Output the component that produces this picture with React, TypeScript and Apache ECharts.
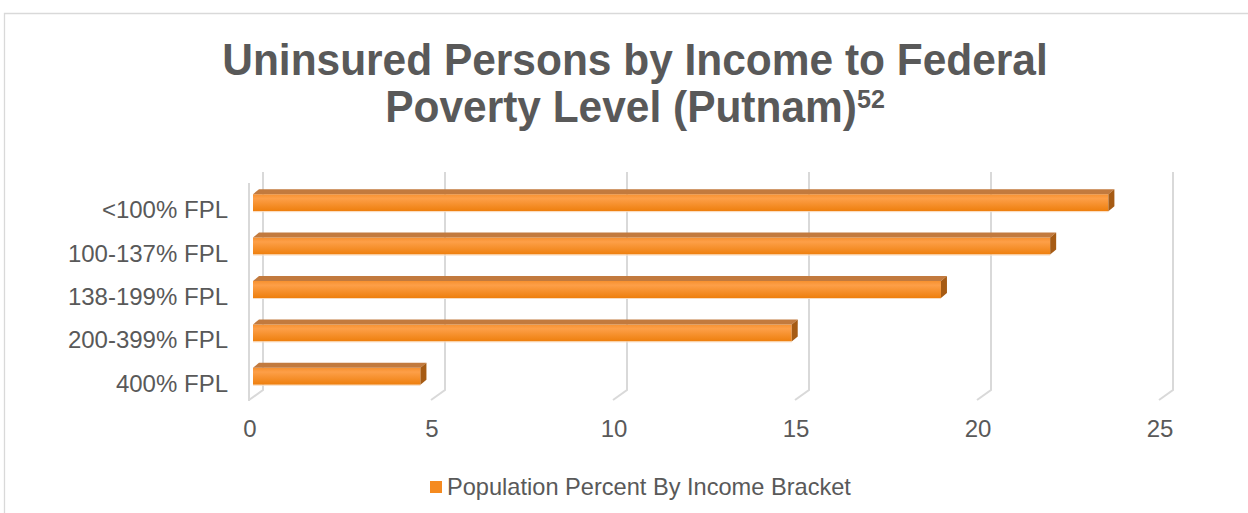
import React, { useEffect, useRef } from "react";
import * as echarts from "echarts";

const categories = ["<100% FPL", "100-137% FPL", "138-199% FPL", "200-399% FPL", "400% FPL"];
const values = [23.5, 21.9, 18.9, 14.8, 4.6];
const xTicks = [0, 5, 10, 15, 20, 25];
const seriesName = "Population Percent By Income Bracket";
const titleLine1 = "Uninsured Persons by Income to Federal";
const titleLine2 = "Poverty Level (Putnam)";
const titleSup = "52";

export default function App() {
  const ref = useRef<HTMLDivElement>(null);
  useEffect(() => {
    const chart = echarts.init(ref.current!, null, { renderer: "svg" });
    const textColor = "#595959";
    const gridColor = "#d9d9d9";
    const font = "'Liberation Sans', Arial, sans-serif";
    chart.setOption({
      animation: false,
      backgroundColor: "#ffffff",
      textStyle: { fontFamily: font },
      graphic: [
        {
          type: "rect",
          shape: { x: 4.5, y: 13.5, width: 1300, height: 600 },
          style: { fill: "none", stroke: gridColor, lineWidth: 1.3 },
          silent: true,
        },
        {
          type: "text",
          x: 635,
          y: 36,
          scaleX: 0.965,
          style: {
            text: `{a|${titleLine1}}\n{a|${titleLine2}}{s|${titleSup}}`,
            align: "center",
            verticalAlign: "top",
            rich: {
              a: { fontSize: 44, fontWeight: "bold", lineHeight: 47, fill: textColor, fontFamily: font },
              s: { fontSize: 26, fontWeight: "bold", lineHeight: 26, verticalAlign: "top", padding: [3, 0, 0, 0], fill: textColor, fontFamily: font },
            },
          },
        },
      ],
      grid: { left: 250, right: 88, top: 188, bottom: 108, containLabel: false },
      xAxis: {
        type: "value",
        min: 0,
        max: 25,
        interval: 5,
        axisLine: { show: false },
        axisTick: { show: false },
        splitLine: { show: false },
        axisLabel: { color: textColor, fontSize: 24, margin: 11, fontFamily: font },
      },
      yAxis: {
        type: "category",
        data: categories,
        inverse: true,
        axisLine: { show: false },
        axisTick: { show: false },
        splitLine: { show: false },
        axisLabel: { color: textColor, fontSize: 24, margin: 22, fontFamily: font },
      },
      legend: {
        data: [seriesName],
        left: 425,
        top: 470,
        icon: "rect",
        itemWidth: 12,
        itemHeight: 12,
        itemGap: 10,
        textStyle: { color: textColor, fontSize: 23.6, fontFamily: font },
      },
      series: [
        {
          type: "custom",
          silent: true,
          z: 1,
          encode: { x: 0, y: 1 },
          data: xTicks.map((t) => [t, 0]),
          renderItem: (params: any, api: any) => {
            const x = api.coord([api.value(0), 0])[0];
            const cs = params.coordSys;
            const top = cs.y - 16;
            const floorBack = cs.y + cs.height - 15;
            const floorFront = cs.y + cs.height - 5;
            const children: any[] = [
              {
                type: "polyline",
                shape: { points: [[x + 13, top], [x + 13, floorBack], [x - 1, floorFront]] },
                style: { stroke: gridColor, lineWidth: 2, fill: "none" },
              },
            ];
            if (api.value(0) === 0) {
              children.push({
                type: "line",
                shape: { x1: x - 1, y1: cs.y - 5, x2: x - 1, y2: floorFront + 1 },
                style: { stroke: gridColor, lineWidth: 2 },
              });
            }
            return { type: "group", children };
          },
        },
        {
          type: "custom",
          name: seriesName,
          z: 3,
          itemStyle: { color: "#f58a1f" },
          encode: { x: 0, y: 1 },
          data: values.map((v, i) => [v, i]),
          renderItem: (params: any, api: any) => {
            const v = api.value(0);
            const idx = api.value(1);
            const p0 = api.coord([0, idx]);
            const p1 = api.coord([v, idx]);
            const x0 = p0[0] + 3;
            const x1 = p1[0] + 3;
            const cy = p0[1] - 7;
            const h = 17;
            const yt = cy - h / 2;
            const yb = cy + h / 2;
            const dx = 6;
            const dy = 5;
            return {
              type: "group",
              children: [
                {
                  type: "rect",
                  shape: { x: x0, y: yt, width: x1 - x0, height: h },
                  style: {
                    fill: {
                      type: "linear",
                      x: 0,
                      y: 0,
                      x2: 0,
                      y2: 1,
                      colorStops: [
                        { offset: 0, color: "#f7912f" },
                        { offset: 0.25, color: "#fd9f48" },
                        { offset: 1, color: "#ee7f0d" },
                      ],
                    },
                  },
                },
                {
                  type: "polygon",
                  shape: { points: [[x0, yt], [x0 + dx, yt - dy], [x1 + dx, yt - dy], [x1, yt]] },
                  style: { fill: "#c27a3e" },
                },
                {
                  type: "polygon",
                  shape: { points: [[x1, yt], [x1 + dx, yt - dy], [x1 + dx, yb - dy], [x1, yb]] },
                  style: { fill: "#a65b14" },
                },
                {
                  type: "line",
                  shape: { x1: x0, y1: yb + 0.5, x2: x1, y2: yb + 0.5 },
                  style: { stroke: "#f9dcc0", lineWidth: 1 },
                },
              ],
            };
          },
        },
      ],
    });
    return () => chart.dispose();
  }, []);
  return <div ref={ref} style={{ position: "absolute", left: 0, top: 0, width: 1248, height: 513 }} />;
}
